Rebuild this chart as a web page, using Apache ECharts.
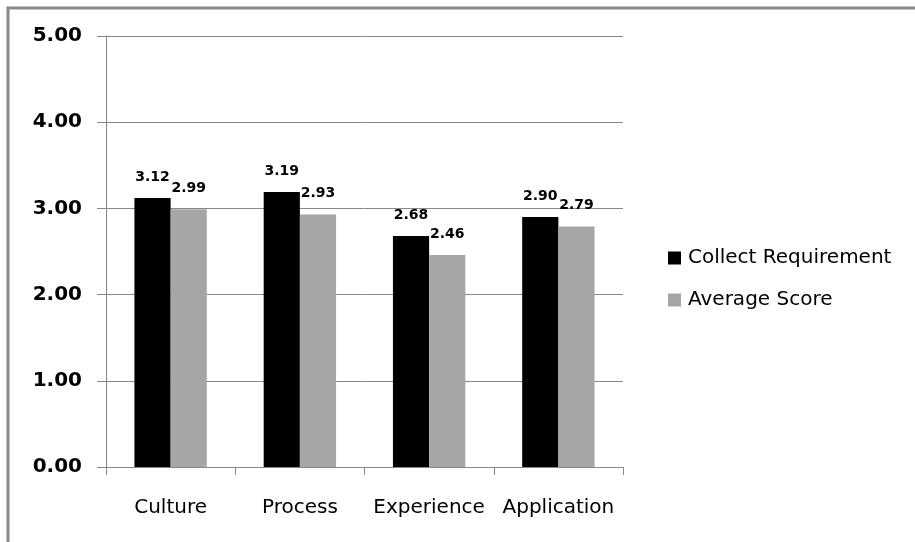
<!DOCTYPE html>
<html>
<head>
<meta charset="utf-8">
<script src="https://cdn.jsdelivr.net/npm/echarts@6/dist/echarts.min.js"></script>
<style>
  html, body { margin: 0; padding: 0; background: #fff; }
  #chart { width: 915px; height: 542px; }
</style>
</head>
<body>
<div id="chart"></div>
<script>
// Scores per dimension
const categories = ['Culture', 'Process', 'Experience', 'Application'];
const collectRequirement = [3.12, 3.19, 2.68, 2.90];
const averageScore = [2.99, 2.93, 2.46, 2.79];
const yTicks = [0, 1, 2, 3, 4, 5];

const chart = echarts.init(document.getElementById('chart'));

const labelStyle = {
  show: true,
  position: 'top',
  distance: 14,
  fontFamily: 'DejaVu Sans',
  fontWeight: 'bold',
  fontSize: 14,
  color: '#000',
  formatter: p => p.value.toFixed(2)
};

chart.setOption({
  animation: false,
  backgroundColor: '#fff',
  graphic: [{
    type: 'rect',
    shape: { x: 8, y: 8, width: 1200, height: 1200 },
    style: { fill: 'none', stroke: '#8a8a8a', lineWidth: 3 },
    silent: true
  }],
  grid: { left: 106, top: 36, right: 292, bottom: 75 },
  legend: {
    orient: 'vertical',
    left: 663,
    top: 243,
    itemWidth: 13,
    itemHeight: 13,
    itemGap: 22,
    icon: 'rect',
    textStyle: { fontFamily: 'DejaVu Sans', fontSize: 20, color: '#000', padding: [0, 0, 0, 2] },
    data: ['Collect Requirement', 'Average Score']
  },
  xAxis: {
    type: 'category',
    data: categories,
    axisLine: { lineStyle: { color: '#888', width: 1 } },
    axisTick: { show: true, interval: 0, length: 8, lineStyle: { color: '#888' } },
    axisLabel: {
      interval: 0,
      margin: 31,
      fontFamily: 'DejaVu Sans',
      fontSize: 20,
      color: '#000'
    }
  },
  yAxis: {
    type: 'value',
    min: yTicks[0],
    max: yTicks[yTicks.length - 1],
    interval: 1,
    axisLine: { show: true, lineStyle: { color: '#888', width: 1 } },
    axisTick: { show: true, length: 9, lineStyle: { color: '#888' } },
    splitLine: { show: true, lineStyle: { color: '#888', width: 1 } },
    axisLabel: {
      margin: 24,
      fontFamily: 'DejaVu Sans',
      fontWeight: 'bold',
      fontSize: 20,
      color: '#000',
      formatter: v => v.toFixed(2)
    }
  },
  series: [
    {
      name: 'Collect Requirement',
      type: 'bar',
      data: collectRequirement,
      barGap: '0%',
      barCategoryGap: '44%',
      itemStyle: { color: '#000000' },
      label: labelStyle
    },
    {
      name: 'Average Score',
      type: 'bar',
      data: averageScore,
      itemStyle: { color: '#a6a6a6' },
      label: labelStyle
    }
  ]
});
</script>
</body>
</html>
